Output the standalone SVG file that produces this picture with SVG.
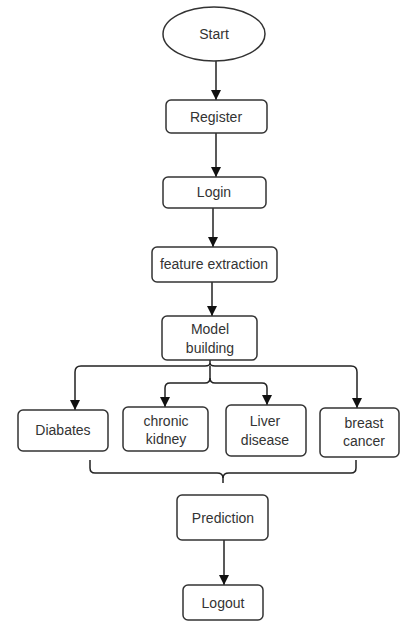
<svg xmlns="http://www.w3.org/2000/svg" width="400" height="622" viewBox="0 0 400 622">
<defs>
<marker id="arr" viewBox="0 0 10 10" refX="10" refY="5" markerWidth="10" markerHeight="10" markerUnits="userSpaceOnUse" orient="auto">
<path d="M0,0 L10,5 L0,10 z" fill="#111"/>
</marker>
<style>
.box{fill:#fff;stroke:#333;stroke-width:1.5}
.t{font-family:"Liberation Sans",Arial,sans-serif;font-size:14px;fill:#333;text-anchor:middle;dominant-baseline:central}
.c{fill:none;stroke:#222;stroke-width:1.5}
.a{marker-end:url(#arr)}
</style>
</defs>
<rect width="400" height="622" fill="#fff"/>
<g id="connectors">
<path class="c a" d="M216,61 V100"/>
<path class="c a" d="M216,133 V177"/>
<path class="c a" d="M213,208 V247"/>
<path class="c a" d="M212,282 V316"/>
<path class="c a" d="M210,360 V363 Q210,366 205,366 H81 Q75,366 75,372 V410"/>
<path class="c a" d="M210,363 Q210,366 215,366 H351 Q357,366 357,372 V408"/>
<path class="c a" d="M210,366 V378 Q210,383 205,383 H170 Q165,383 165,388 V407"/>
<path class="c a" d="M210,378 Q210,383 215,383 H262 Q267,383 267,388 V405"/>
<path class="c" d="M90,460 V468 Q90,473 95,473 H217 Q223,473 223,478 V483"/>
<path class="c" d="M356,460 V468 Q356,473 351,473 H229 Q223,473 223,478"/>
<path class="c a" d="M224,540 V585"/>
</g>
<g id="start"><ellipse class="box" cx="214" cy="34" rx="51" ry="27"/><text class="t" x="214" y="34">Start</text></g>
<g id="register"><rect class="box" x="166" y="100" width="101" height="33" rx="5"/><text class="t" x="216" y="117">Register</text></g>
<g id="login"><rect class="box" x="163" y="177" width="103" height="31" rx="5"/><text class="t" x="214" y="192">Login</text></g>
<g id="feature"><rect class="box" x="152" y="247" width="125" height="35" rx="5"/><text class="t" x="214" y="264">feature extraction</text></g>
<g id="model"><rect class="box" x="162" y="316" width="95" height="44" rx="5"/><text class="t" x="210" y="329">Model</text><text class="t" x="210" y="348">building</text></g>
<g id="diabates"><rect class="box" x="18" y="410" width="90" height="41" rx="5"/><text class="t" x="63" y="430">Diabates</text></g>
<g id="chronic"><rect class="box" x="123" y="407" width="85" height="44" rx="5"/><text class="t" x="166" y="421">chronic</text><text class="t" x="166" y="439">kidney</text></g>
<g id="liver"><rect class="box" x="226" y="405" width="80" height="51" rx="5"/><text class="t" x="265" y="421">Liver</text><text class="t" x="265" y="440">disease</text></g>
<g id="breast"><rect class="box" x="320" y="408" width="79" height="49" rx="5"/><text class="t" x="364" y="423">breast</text><text class="t" x="364" y="441">cancer</text></g>
<g id="prediction"><rect class="box" x="177" y="495" width="91" height="45" rx="5"/><text class="t" x="223" y="518">Prediction</text></g>
<g id="logout"><rect class="box" x="183" y="585" width="80" height="35" rx="5"/><text class="t" x="223" y="603">Logout</text></g>
</svg>
